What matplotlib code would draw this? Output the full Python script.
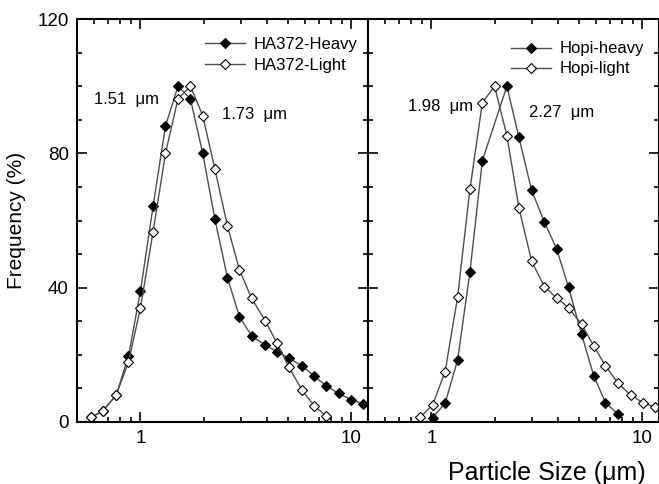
import matplotlib
matplotlib.use("Agg")
import matplotlib.pyplot as plt
from matplotlib.ticker import FixedLocator, MultipleLocator, NullFormatter

plt.rcParams["font.family"] = ["Liberation Sans", "DejaVu Sans"]

# HA372 (left panel)
ha_size = [0.584, 0.663, 0.767, 0.877, 1.0, 1.148, 1.314, 1.506, 1.726, 1.974,
           2.255, 2.585, 2.946, 3.37, 3.90, 4.45, 5.06, 5.84, 6.66, 7.59,
           8.71, 10.0, 11.4]
ha_heavy = [1.4, 3.3, 8.0, 19.6, 39.0, 64.3, 88.1, 100, 96.2, 80.0,
            60.4, 43.0, 31.4, 25.6, 22.9, 20.9, 19.0, 16.7, 13.7, 10.8,
            8.5, 6.6, 5.4]
ha_light_size = ha_size[:20]
ha_light = [1.4, 3.3, 8.0, 17.8, 34.0, 56.7, 80.0, 96.2, 100, 91.2,
            75.3, 58.4, 45.3, 36.8, 30.2, 23.4, 16.3, 9.5, 4.8, 1.9]

# Hopi (right panel)
hopi_light_size = [0.882, 1.013, 1.161, 1.331, 1.522, 1.743, 1.993, 2.279, 2.598, 2.985,
                   3.43, 3.92, 4.47, 5.15, 5.89, 6.69, 7.69, 8.82, 10.1, 11.5]
hopi_light = [1.4, 5.1, 15.0, 37.3, 69.3, 95.1, 100, 85.2, 63.8, 47.9,
              40.3, 37.0, 34.0, 29.1, 22.6, 16.7, 11.5, 8.0, 5.7, 4.4]
hopi_heavy_size = [1.013, 1.161, 1.331, 1.522, 1.743, 2.279, 2.598, 2.985,
                   3.43, 3.92, 4.47, 5.15, 5.89, 6.69, 7.69]
hopi_heavy = [1.3, 5.6, 18.5, 44.7, 77.8, 100, 84.8, 69.0,
              59.6, 51.6, 40.1, 26.1, 13.7, 5.7, 2.3]

x_major = [1, 10]
x_major_labels = ["1", "10"]
x_minor = [0.6, 0.7, 0.8, 0.9, 2, 3, 4, 5, 6, 7, 8, 9]
y_major = [0, 40, 80, 120]

line_col = "#4d4d4d"
heavy_style = dict(color=line_col, lw=1.0, marker="D", ms=5.2,
                   mfc="black", mec="black", mew=0.8)
light_style = dict(color=line_col, lw=1.0, marker="D", ms=5.2,
                   mfc="white", mec="black", mew=0.8)

fig = plt.figure(figsize=(6.59, 4.84), dpi=100)
bottom = 1 - 422 / 484
height = 403 / 484
ax1 = fig.add_axes([77 / 659, bottom, 291 / 659, height])
ax2 = fig.add_axes([368 / 659, bottom, 291 / 659, height])

ax1.plot(ha_size, ha_heavy, label="HA372-Heavy", **heavy_style)
ax1.plot(ha_light_size, ha_light, label="HA372-Light", **light_style)
ax2.plot(hopi_heavy_size, hopi_heavy, label="Hopi-heavy", **heavy_style)
ax2.plot(hopi_light_size, hopi_light, label="Hopi-light", **light_style)

for ax in (ax1, ax2):
    ax.set_xscale("log")
    ax.set_xlim(0.5, 12)
    ax.set_ylim(0, 120)
    ax.xaxis.set_major_locator(FixedLocator(x_major))
    ax.set_xticklabels(x_major_labels)
    ax.xaxis.set_minor_locator(FixedLocator(x_minor))
    ax.xaxis.set_minor_formatter(NullFormatter())
    ax.set_yticks(y_major)
    ax.yaxis.set_minor_locator(MultipleLocator(10))
    ax.tick_params(which="both", direction="in", top=True, right=True,
                   width=1.2, labelsize=13.5)
    ax.tick_params(which="major", length=7, pad=6)
    ax.tick_params(which="minor", length=3.5)
    for sp in ax.spines.values():
        sp.set_linewidth(1.5)

ax2.tick_params(labelleft=False)

ax1.legend(loc="upper left", bbox_to_anchor=(0.411, 0.977), frameon=False,
           fontsize=12, borderpad=0, handlelength=2.4, handletextpad=0.5,
           labelspacing=0.4, numpoints=1)
ax2.legend(loc="upper left", bbox_to_anchor=(0.464, 0.965), frameon=False,
           fontsize=12, borderpad=0, handlelength=2.4, handletextpad=0.5,
           labelspacing=0.3, numpoints=1)

ax1.text(0.605, 95.9, "1.51  \u03bcm", fontsize=12, va="center", ha="left")
ax1.text(2.44, 91.7, "1.73  \u03bcm", fontsize=12, va="center", ha="left")
ax2.text(0.777, 93.8, "1.98  \u03bcm", fontsize=12, va="center", ha="left")
ax2.text(2.91, 92.3, "2.27  \u03bcm", fontsize=12, va="center", ha="left")

ax1.set_ylabel("Frequency (%)", fontsize=15, labelpad=8)
fig.text(547 / 659, 1 - 473 / 484, "Particle Size (\u03bcm)", fontsize=18,
         ha="center", va="center")

fig.savefig("out.png", dpi=100)
